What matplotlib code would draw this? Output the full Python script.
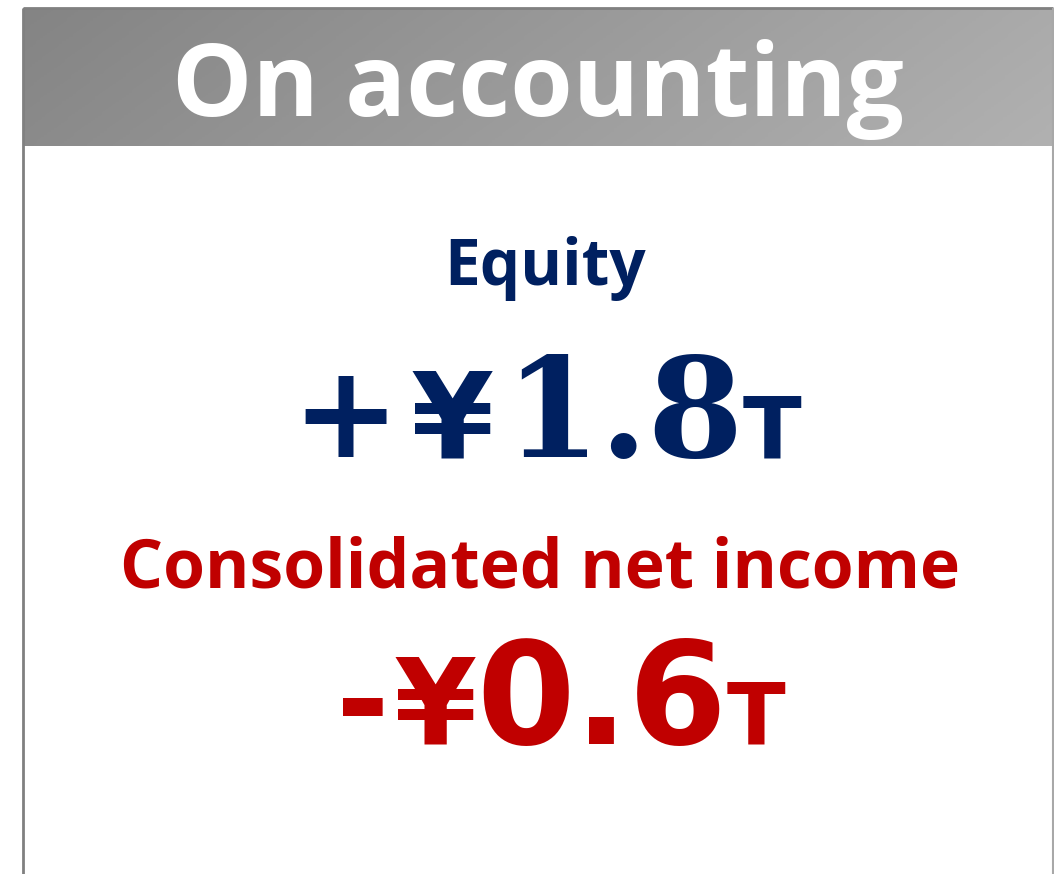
import numpy as np
import matplotlib
matplotlib.use("Agg")
import matplotlib.pyplot as plt
from matplotlib.colors import LinearSegmentedColormap

# panel text
header_text = "On accounting"
equity_label = "Equity"
equity_sign = "+"
equity_value = "1.8"
income_label = "Consolidated net income"
income_sign = "-"
income_value = "0.6"
currency = "¥"
unit = "T"

navy = "#002060"
red = "#c00000"

W, H = 1054, 874
fig = plt.figure(figsize=(W / 100, H / 100), dpi=100)
ax = fig.add_axes([0, 0, 1, 1])
ax.set_xlim(0, W)
ax.set_ylim(H, 0)
ax.axis("off")

# header band with diagonal grey gradient
gx, gy = np.meshgrid(np.linspace(0, 1, 300), np.linspace(0, 1, 60))
grad = 0.85 * gx + 0.15 * gy
cmap = LinearSegmentedColormap.from_list("hdr", ["#848484", "#b1b1b1"])
ax.imshow(grad, cmap=cmap, extent=(23, 1053, 146, 8), aspect="auto", zorder=1)

# frame
ax.plot([23, 23], [8, H], color="#808080", lw=2, zorder=2, solid_capstyle="butt")
ax.plot([23, 1053], [8, 8], color="#808080", lw=2, zorder=2, solid_capstyle="butt")
ax.plot([1053, 1053], [8, H], color="#a8a8a8", lw=1.5, zorder=2, solid_capstyle="butt")

sans = "Open Sans"
ax.text(538, 116, header_text, color="white", fontsize=72.8, fontfamily=sans,
        fontweight="bold", ha="center", va="baseline", zorder=3)

ax.text(545, 285, equity_label, color=navy, fontsize=46, fontfamily=sans,
        fontweight="bold", ha="center", va="baseline", zorder=3)
ax.text(540, 587, income_label, color=red, fontsize=48.8, fontfamily=sans,
        fontweight="bold", ha="center", va="baseline", zorder=3)

bold = dict(fontweight="bold", ha="center", va="baseline", zorder=3)

# equity figure: +¥1.8T
base = 457
ax.text(345, base, equity_sign, color=navy, fontsize=93, fontfamily="DejaVu Sans", **bold)
ax.text(452, base, currency, color=navy, fontsize=86, fontfamily="DejaVu Sans", **bold)
ax.text(624, base, equity_value, color=navy, fontsize=99, fontfamily="DejaVu Serif", **bold)
ax.text(772, base, unit, color=navy, fontsize=62, fontfamily="DejaVu Sans", **bold)

# income figure: -¥0.6T
base = 744
ax.text(363, base, income_sign, color=red, fontsize=93, fontfamily="DejaVu Sans", **bold)
ax.text(435, base, currency, color=red, fontsize=86, fontfamily="DejaVu Sans", **bold)
ax.text(602, base, income_value, color=red, fontsize=102, fontfamily="DejaVu Sans", **bold)
ax.text(756, base, unit, color=red, fontsize=62, fontfamily="DejaVu Sans", **bold)

fig.savefig("out.png", dpi=100)
